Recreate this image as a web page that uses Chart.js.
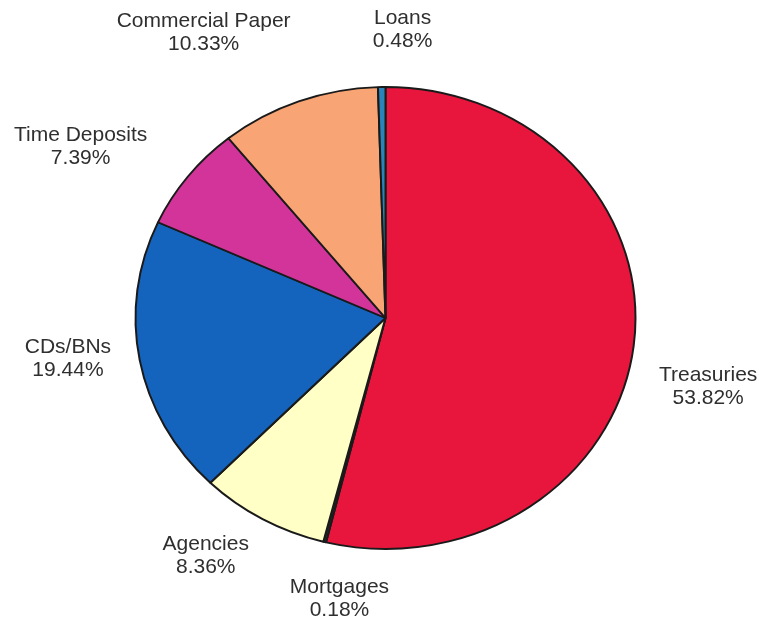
<!DOCTYPE html>
<html>
<head>
<meta charset="utf-8">
<script src="https://cdn.jsdelivr.net/npm/chart.js@4/dist/chart.umd.min.js"></script>
<style>
  html, body { margin: 0; padding: 0; background: #fff; }
  #wrap { width: 759px; height: 619px; }
</style>
</head>
<body>
<div id="wrap"><canvas id="myChart" width="759" height="619"></canvas></div>
<script>
const categorias = ["Treasuries", "Mortgages", "Agencies", "CDs/BNs", "Time Deposits", "Commercial Paper", "Loans"];
const porcentajes = [53.82, 0.18, 8.36, 19.44, 7.39, 10.33, 0.48];
const etiquetas = ["53.82%", "0.18%", "8.36%", "19.44%", "7.39%", "10.33%", "0.48%"];

const colores = ["#E8163C", "#2A2A2A", "#FFFFC6", "#1464BE", "#D2349A", "#F8A474", "#2A84BA"];

// estira el pastel un poco en vertical (el original es una elipse)
const RX = 250, RY = 231;

const elipse = {
    id: "elipse",
    beforeDatasetsDraw(chart) {
        const arc = chart.getDatasetMeta(0).data[0];
        const ctx = chart.ctx;
        ctx.save();
        ctx.translate(arc.x, arc.y);
        ctx.scale(1, RY / RX);
        ctx.translate(-arc.x, -arc.y);
    },
    afterDatasetsDraw(chart) {
        chart.ctx.restore();
    }
};

// ajustes a mano de cada etiqueta respecto a la posicion radial
const ajustes = [[0, 32], [33, -11], [-20, -24], [2, -15], [-48, 12], [-69, -4], [22, 11]];

const rotulos = {
    id: "rotulos",
    afterDraw(chart) {
        const ctx = chart.ctx;
        const meta = chart.getDatasetMeta(0);
        ctx.save();
        ctx.font = "21px 'Liberation Sans', Arial, sans-serif";
        ctx.fillStyle = "#2f2f2f";
        ctx.textAlign = "center";
        ctx.textBaseline = "middle";
        meta.data.forEach((arc, i) => {
            const mid = (arc.startAngle + arc.endAngle) / 2;
            const x = arc.x + 1.3 * RX * Math.cos(mid) + ajustes[i][0];
            const y = arc.y + 1.3 * RY * Math.sin(mid) + ajustes[i][1];
            ctx.fillText(categorias[i], x, y - 11);
            ctx.fillText(etiquetas[i], x, y + 12);
        });
        ctx.restore();
    }
};

const data = {
    labels: categorias,
    datasets: [{
        data: porcentajes,
        backgroundColor: colores,
        borderColor: "#1a1a1a",
        borderWidth: 2
    }]
};

const config = {
    type: "pie",
    data,
    options: {
        responsive: false,
        animation: false,
        radius: RX,
        layout: { padding: { left: 12, top: 17 } },
        plugins: {
            legend: { display: false },
            tooltip: { enabled: false }
        }
    },
    plugins: [elipse, rotulos]
};

const myChart = document.getElementById("myChart");
new Chart(myChart, config);
</script>
</body>
</html>
